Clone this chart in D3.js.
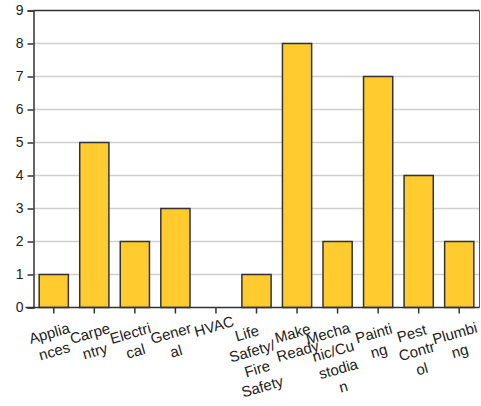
<!DOCTYPE html>
<html>
<head>
<meta charset="utf-8">
<script src="https://cdn.jsdelivr.net/npm/d3@7/dist/d3.min.js"></script>
<style>
  html, body { margin: 0; padding: 0; background: #fff; }
  svg { display: block; }
  text { font-family: "Liberation Sans", Arial, sans-serif; }
</style>
</head>
<body>
<svg id="chart" width="481" height="406"></svg>
<script>
// ---- data ----
const categories = ["Appliances", "Carpentry", "Electrical", "General", "HVAC",
  "Life Safety/Fire Safety", "Make Ready", "Mechanic/Custodian", "Painting",
  "Pest Control", "Plumbing"];
const values = [1, 5, 2, 3, 0, 1, 8, 2, 7, 4, 2];
const tickLabelLines = [
  ["Applia", "nces"], ["Carpe", "ntry"], ["Electri", "cal"], ["Gener", "al"],
  ["HVAC"], ["Life", "Safety/", "Fire", "Safety"], ["Make", "Ready"],
  ["Mecha", "nic/Cu", "stodia", "n"], ["Painti", "ng"], ["Pest", "Contr", "ol"],
  ["Plumbi", "ng"]
];
const yTicks = [0, 1, 2, 3, 4, 5, 6, 7, 8, 9];

// ---- layout ----
const mLeft = 33.5, mRight = 479.5, mTop = 10.5, mBottom = 307.5;
const svg = d3.select("#chart");

const x = d3.scaleBand().domain(categories).range([mLeft, mRight])
  .paddingInner(0.28).paddingOuter(0.14);
const y = d3.scaleLinear().domain([0, 9]).range([mBottom, mTop]);

// gridlines
svg.append("g").selectAll("line").data(yTicks.filter(t => t > 0 && t < 9)).join("line")
  .attr("x1", mLeft).attr("x2", mRight)
  .attr("y1", d => y(d)).attr("y2", d => y(d))
  .attr("stroke", "#d0d0d0").attr("stroke-width", 1.5);

// top & right border
svg.append("line").attr("x1", mLeft).attr("x2", mRight).attr("y1", y(9)).attr("y2", y(9))
  .attr("stroke", "#333").attr("stroke-width", 1.5);
svg.append("line").attr("x1", mRight).attr("x2", mRight).attr("y1", y(9)).attr("y2", y(0))
  .attr("stroke", "#555").attr("stroke-width", 1);

// bars
svg.append("g").selectAll("rect").data(values.map((v, i) => ({c: categories[i], v})))
  .join("rect")
  .attr("x", d => x(d.c))
  .attr("width", x.bandwidth())
  .attr("y", d => y(d.v))
  .attr("height", d => y(0) - y(d.v))
  .attr("fill", d => d.v > 0 ? "#ffcb2f" : "none")
  .attr("stroke", d => d.v > 0 ? "#333" : "none")
  .attr("stroke-width", 1.5);

// y axis
const yAxis = svg.append("g").attr("transform", `translate(${mLeft},0)`)
  .call(d3.axisLeft(y).tickValues(yTicks).tickSize(6).tickPadding(4).tickFormat(d3.format("d")));
yAxis.select(".domain").attr("stroke", "#333").attr("stroke-width", 1.5);
yAxis.selectAll(".tick line").attr("stroke", "#333").attr("stroke-width", 1.5);
yAxis.selectAll(".tick text").attr("font-size", 14).attr("fill", "#222")
  .attr("font-family", "'Liberation Sans', Arial, sans-serif");

// x axis
const xAxis = svg.append("g").attr("transform", `translate(0,${mBottom})`)
  .call(d3.axisBottom(x).tickSize(6).tickFormat(""));
xAxis.select(".domain").attr("stroke", "#333").attr("stroke-width", 1.5)
  .attr("d", `M${mLeft - 8},0H${mRight}`);
xAxis.selectAll(".tick line").attr("stroke", "#333").attr("stroke-width", 1.5);

// wrapped, rotated x labels
const lh = 18.5;
const ang = 16;
const lbl = svg.append("g");
categories.forEach((c, i) => {
  const lines = tickLabelLines[i];
  const n = lines.length;
  const cx = x(c) + x.bandwidth() / 2 - 2;
  const firstY = n === 1 ? 326 : 333;
  const cy = firstY + (n - 1) / 2 * lh * Math.cos(ang * Math.PI / 180);
  const g = lbl.append("g").attr("transform", `translate(${cx},${cy}) rotate(${-ang})`);
  g.selectAll("text").data(lines).join("text")
    .attr("x", 0)
    .attr("y", (d, j) => (j - (n - 1) / 2) * lh)
    .attr("text-anchor", "middle")
    .attr("dominant-baseline", "central")
    .attr("font-size", 15)
    .attr("fill", "#222")
    .text(d => d);
});
</script>
</body>
</html>
